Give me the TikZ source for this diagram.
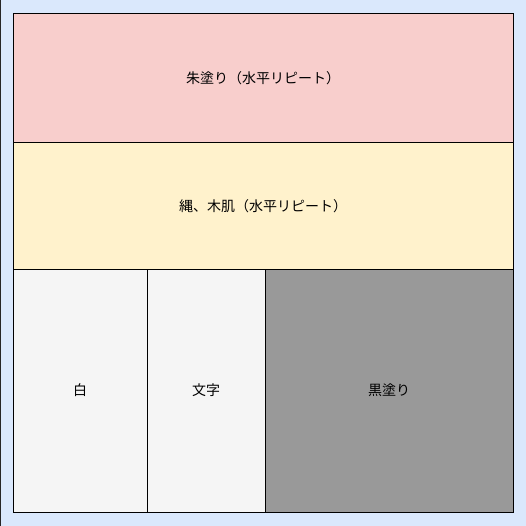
\documentclass[tikz,border=0pt]{standalone}
\usepackage{fontspec}
\setmainfont{Noto Sans CJK JP}
\definecolor{paneblue}{HTML}{DAE8FC}
\definecolor{panered}{HTML}{F8CECC}
\definecolor{paneyellow}{HTML}{FFF2CC}
\definecolor{panegray}{HTML}{F5F5F5}
\definecolor{panedark}{HTML}{999999}
\begin{document}
\begin{tikzpicture}[x=1pt, y=-1pt, every node/.style={font=\fontsize{14}{16}\selectfont},
    pane/.style={rectangle, draw=black, line width=1pt, inner sep=0pt, outer sep=0pt}]
			\useasboundingbox (0,0) rectangle (526,526);
			% Background
			\node[pane, fill=paneblue, draw=black!85, minimum width=526pt, minimum height=526pt] (frame) at (263,263) {};

			% Bands
			\node[pane, fill=panered, minimum width=500pt, minimum height=129pt] (shu) at (263,78.5) {朱塗り（水平リピート）};
			\node[pane, fill=paneyellow, minimum width=500pt, minimum height=126pt] (nawa) at (263,206) {縄、木肌（水平リピート）};

			% Lower row
			\node[pane, fill=panegray, minimum width=134pt, minimum height=243pt] (shiro) at (80,390.5) {白};
			\node[pane, fill=panegray, minimum width=118pt, minimum height=243pt] (moji) at (206,390.5) {文字};
			\node[pane, fill=panedark, minimum width=248pt, minimum height=243pt] (kuro) at (389,390.5) {黒塗り};
		\end{tikzpicture}
\end{document}
